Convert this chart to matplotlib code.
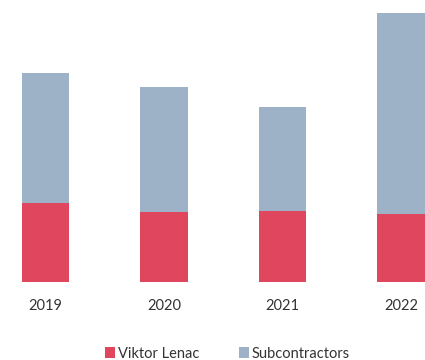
import matplotlib.pyplot as plt
import numpy as np

years = ["2019", "2020", "2021", "2022"]
viktor_lenac = [79.5, 70.5, 71.5, 68]
subcontractors = [130, 125, 104, 201]

RED = "#e0465e"
BLUE = "#9eb2c7"

plt.rcParams["font.family"] = ["Lato", "DejaVu Sans"]

fig = plt.figure(figsize=(4.25, 3.6), dpi=100)
ax = fig.add_axes([0, 0.2153, 1, 0.7847])

x = np.arange(len(years))
ax.bar(x, viktor_lenac, width=0.4, color=RED, label="Viktor Lenac")
ax.bar(x, subcontractors, width=0.4, bottom=viktor_lenac, color=BLUE,
       label="Subcontractors")

ax.set_xlim(-0.384, 3.203)
ax.set_ylim(0, 282.5)
ax.set_xticks(x)
ax.set_xticklabels(years, fontsize=10.5, color="#333333")
ax.tick_params(axis="x", length=0, pad=12)
ax.set_yticks([])
for side in ax.spines.values():
    side.set_visible(False)

fig.legend(loc="center", bbox_to_anchor=(0.535, 0.018), ncol=2, frameon=False,
           fontsize=10.5, handlelength=0.7, handleheight=0.7,
           handletextpad=0.2, columnspacing=2.7, labelcolor="#333333")

fig.savefig("out.png", dpi=100)
